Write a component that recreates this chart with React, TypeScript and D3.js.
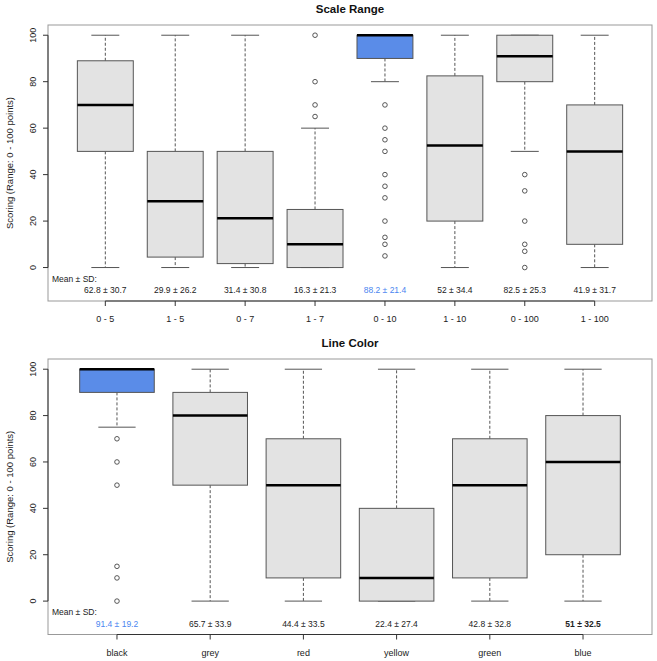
import React from "react";
import * as d3 from "d3";

// Scale Range panel
const scaleCats = ["0 - 5", "1 - 5", "0 - 7", "1 - 7", "0 - 10", "1 - 10", "0 - 100", "1 - 100"];
const scaleLow = [0, 0, 0, 0, 80, 0, 50, 0];
const scaleQ1 = [50, 4.5, 1.7, 0, 90, 20, 80, 10];
const scaleMedian = [70, 28.5, 21.2, 10, 100, 52.5, 91, 50];
const scaleQ3 = [89, 50, 50, 25, 100, 82.5, 100, 70];
const scaleHigh = [100, 100, 100, 60, 100, 100, 100, 100];
const scaleOutliers = [
  [],
  [],
  [],
  [65, 70, 80, 100],
  [70, 60, 55, 50, 40, 35, 30, 20, 13, 10, 5],
  [],
  [40, 33, 20, 10, 7, 0],
  [],
];
const scaleMeanSd = ["62.8 ± 30.7", "29.9 ± 26.2", "31.4 ± 30.8", "16.3 ± 21.3", "88.2 ± 21.4", "52 ± 34.4", "82.5 ± 25.3", "41.9 ± 31.7"];

// Line Color panel
const colorCats = ["black", "grey", "red", "yellow", "green", "blue"];
const colorLow = [75, 0, 0, 0, 0, 0];
const colorQ1 = [90, 50, 10, 0, 10, 20];
const colorMedian = [100, 80, 50, 10, 50, 60];
const colorQ3 = [100, 90, 70, 40, 70, 80];
const colorHigh = [100, 100, 100, 100, 100, 100];
const colorOutliers = [[70, 60, 50, 15, 10, 0], [], [], [], [], []];
const colorMeanSd = ["91.4 ± 19.2", "65.7 ± 33.9", "44.4 ± 33.5", "22.4 ± 27.4", "42.8 ± 32.8", "51 ± 32.5"];

const yTicks = [0, 20, 40, 60, 80, 100];

const FONT = "'Liberation Sans', Arial, sans-serif";
const BLUE_FILL = "#5a8ce8";
const BLUE_TEXT = "#4a86f0";
const BOX_FILL = "#e3e3e3";

type PanelProps = {
  title: string;
  top: number;
  bottom: number;
  cats: string[];
  low: number[];
  q1: number[];
  median: number[];
  q3: number[];
  high: number[];
  outliers: number[][];
  meanSd: string[];
  best: number;
  bold?: number;
};

const Panel = ({ title, top, bottom, cats, low, q1, median, q3, high, outliers, meanSd, best, bold }: PanelProps) => {
  const n = cats.length;
  const left = 48;
  const right = 652;
  // R style: xlim 0.5..n+0.5 plus 4% each side
  const x = d3
    .scaleLinear()
    .domain([0.5 - 0.04 * n, n + 0.5 + 0.04 * n])
    .range([left, right]);
  const y = d3.scaleLinear().domain([-14.4, 104.4]).range([bottom, top]);
  const unit = x(2) - x(1);
  const boxW = unit * 0.8;
  const capW = boxW * 0.5;
  const midY = (top + bottom) / 2;

  return (
    <g fontFamily={FONT}>
      <text x={(left + right) / 2} y={top - 12} textAnchor="middle" fontSize={11.5} fontWeight="bold" fill="#111">
        {title}
      </text>
      <rect x={left} y={top} width={right - left} height={bottom - top} fill="none" stroke="#999" />
      {/* y axis */}
      <line x1={left} x2={left} y1={y(0)} y2={y(100)} stroke="#333" />
      {yTicks.map((t) => (
        <g key={t}>
          <line x1={left - 5} x2={left} y1={y(t)} y2={y(t)} stroke="#333" />
          <text
            transform={`translate(${left - 14},${y(t)}) rotate(-90)`}
            textAnchor="middle"
            dominantBaseline="middle"
            fontSize={9}
            fill="#222"
          >
            {t}
          </text>
        </g>
      ))}
      <text
        transform={`translate(10,${midY}) rotate(-90)`}
        textAnchor="middle"
        dominantBaseline="middle"
        fontSize={9.5}
        fill="#222"
      >
        Scoring (Range: 0 - 100 points)
      </text>
      {/* x axis */}
      <line x1={x(1)} x2={x(n)} y1={bottom} y2={bottom} stroke="#333" />
      {cats.map((c, i) => (
        <g key={c}>
          <line x1={x(i + 1)} x2={x(i + 1)} y1={bottom} y2={bottom + 5} stroke="#333" />
          <text x={x(i + 1)} y={bottom + 19} textAnchor="middle" dominantBaseline="middle" fontSize={9} fill="#222">
            {c}
          </text>
        </g>
      ))}
      {/* boxes */}
      {cats.map((c, i) => {
        const cx = x(i + 1);
        return (
          <g key={"b" + c}>
            <line x1={cx} x2={cx} y1={y(q3[i])} y2={y(high[i])} stroke="#555" strokeDasharray="3,2" />
            <line x1={cx} x2={cx} y1={y(q1[i])} y2={y(low[i])} stroke="#555" strokeDasharray="3,2" />
            <line x1={cx - capW / 2} x2={cx + capW / 2} y1={y(high[i])} y2={y(high[i])} stroke="#555" />
            <line x1={cx - capW / 2} x2={cx + capW / 2} y1={y(low[i])} y2={y(low[i])} stroke="#555" />
            <rect
              x={cx - boxW / 2}
              y={y(q3[i])}
              width={boxW}
              height={y(q1[i]) - y(q3[i])}
              fill={i === best ? BLUE_FILL : BOX_FILL}
              stroke="#555"
            />
            <line x1={cx - boxW / 2} x2={cx + boxW / 2} y1={y(median[i])} y2={y(median[i])} stroke="#000" strokeWidth={2.5} />
            {outliers[i].map((o, j) => (
              <circle key={j} cx={cx} cy={y(o)} r={2.3} fill="none" stroke="#444" strokeWidth={0.9} />
            ))}
            <text
              x={cx}
              y={y(-10.2)}
              textAnchor="middle"
              dominantBaseline="middle"
              fontSize={8.5}
              fontWeight={i === bold ? "bold" : "normal"}
              fill={i === best ? BLUE_TEXT : "#222"}
            >
              {meanSd[i]}
            </text>
          </g>
        );
      })}
      <text x={left + 4} y={y(-5.2)} dominantBaseline="middle" fontSize={8.5} fill="#222">
        Mean ± SD:
      </text>
    </g>
  );
};

export default function App() {
  return (
    <svg width={657} height={661} style={{ position: "absolute", left: 0, top: 0, background: "#fff" }}>
      <rect width={657} height={661} fill="#fff" />
      <Panel
        title="Scale Range"
        top={25}
        bottom={301}
        cats={scaleCats}
        low={scaleLow}
        q1={scaleQ1}
        median={scaleMedian}
        q3={scaleQ3}
        high={scaleHigh}
        outliers={scaleOutliers}
        meanSd={scaleMeanSd}
        best={4}
      />
      <Panel
        title="Line Color"
        top={359}
        bottom={634.5}
        cats={colorCats}
        low={colorLow}
        q1={colorQ1}
        median={colorMedian}
        q3={colorQ3}
        high={colorHigh}
        outliers={colorOutliers}
        meanSd={colorMeanSd}
        best={0}
        bold={5}
      />
    </svg>
  );
}
